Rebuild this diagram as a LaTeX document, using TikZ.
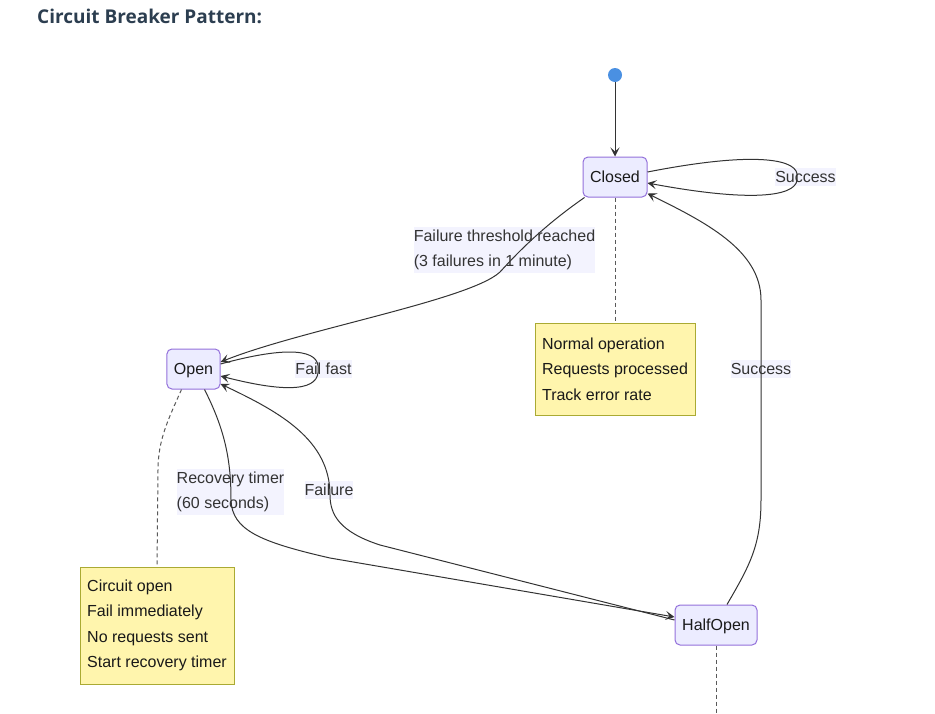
\documentclass[tikz,border=0pt]{standalone}
\usepackage{fontspec}
\setmainfont{Liberation Sans}
\newfontfamily\titlefont{Open Sans}
\usetikzlibrary{arrows.meta}
\definecolor{stfill}{HTML}{ECECFF}
\definecolor{stdraw}{HTML}{9370DB}
\definecolor{notefill}{HTML}{FFF5AD}
\definecolor{notedraw}{HTML}{AAAA33}
\definecolor{edgecol}{HTML}{333333}
\definecolor{lblbg}{HTML}{F3F3FE}
\definecolor{startblue}{HTML}{4A90E2}
\definecolor{titlecol}{HTML}{2C3E50}
\tikzset{
  statebox/.style={draw=stdraw, fill=stfill, line width=1pt, rounded corners=5pt, minimum height=40pt, inner xsep=7pt, text height=13.5pt, text depth=2pt, font=\fontsize{16}{19}\selectfont, text=black!90},
  notebox/.style={draw=notedraw, fill=notefill, line width=1pt, align=left, font=\fontsize{16}{25.5}\selectfont, text=black!90},
  lbl/.style={fill=lblbg, inner xsep=0pt, inner ysep=3pt, align=left, font=\fontsize{16}{25.5}\selectfont, text=edgecol},
  edge/.style={draw=edgecol, line width=1pt, -{Stealth[length=9pt,width=9pt,inset=4pt]}},
  noteline/.style={draw=black!65, line width=1pt, dash pattern=on 4pt off 3pt},
}
\begin{document}
\begin{tikzpicture}[x=1pt,y=-1pt]
\useasboundingbox (0,0) rectangle (935,713);
% title
\node[anchor=west, font=\titlefont\fontsize{19}{23}\selectfont\bfseries, text=titlecol, inner sep=0pt] (title) at (37,16) {Circuit Breaker Pattern:};
% edge labels (behind edges)
\node[lbl] (lthr) at (504.5,250) {Failure threshold reached\\(3 failures in 1 minute)};
\node[lbl] (lsucc1) at (805.5,177) {Success};
\node[lbl] (lfast) at (323.5,369) {Fail fast};
\node[lbl] (lrec) at (230.5,492) {Recovery timer\\(60 seconds)};
\node[lbl] (lfail) at (329,490) {Failure};
\node[lbl] (lsucc2) at (761,369) {Success};
% states
\node[circle, fill=startblue, minimum size=14pt, inner sep=0pt] (start) at (615,75) {};
\node[statebox, minimum width=64pt] (closed) at (615,177) {Closed};
\node[statebox, minimum width=53pt] (open) at (193.5,369) {Open};
\node[statebox, minimum width=82pt] (half) at (716,625) {HalfOpen};
% notes
\node[notebox, minimum width=160pt, minimum height=92pt] (n1) at (615,369) {Normal operation\\Requests processed\\Track error rate};
\node[notebox, minimum width=154pt, minimum height=117pt] (n2) at (157,625.5) {Circuit open\\Fail immediately\\No requests sent\\Start recovery timer};
\coordinate (n3end) at (716,713);
% note connectors
\draw[noteline] (closed.south) -- (n1.north);
\draw[noteline] ([xshift=-12pt]open.south) .. controls (168,420) and (158,440) .. (158,470) -- (n2.north);
\draw[noteline] (half.south) -- (n3end);
% edges
\draw[edge] (start) -- (closed.north);
\draw[edge] ([yshift=5pt]closed.east) .. controls (760,150) and (800,160) .. (797,177) .. controls (800,195) and (760,204) .. ([yshift=-6pt]closed.east);
\draw[edge] ([xshift=2pt]closed.south west) .. controls (545,225) and (520,250) .. (500,272) .. controls (470,300) and (300,330) .. ([yshift=7pt]open.east);
\draw[edge] ([yshift=5pt]open.east) .. controls (290,345) and (320,350) .. (318,369) .. controls (320,390) and (290,394) .. ([yshift=-7pt]open.east);
\draw[edge] ([xshift=11pt]open.south) .. controls (225,430) and (231,460) .. (231,500) .. controls (232,530) and (260,542) .. (330,558) -- ([yshift=8pt]half.west);
\draw[edge] ([yshift=5pt]half.west) -- (380,545) .. controls (340,532) and (330,515) .. (330,495) .. controls (330,440) and (280,412) .. ([yshift=-15pt]open.east);
\draw[edge] ([xshift=11pt]half.north) .. controls (750,565) and (761,545) .. (761,500) -- (761,300) .. controls (761,250) and (705,222) .. ([yshift=4pt]closed.south east);
\end{tikzpicture}
\end{document}
